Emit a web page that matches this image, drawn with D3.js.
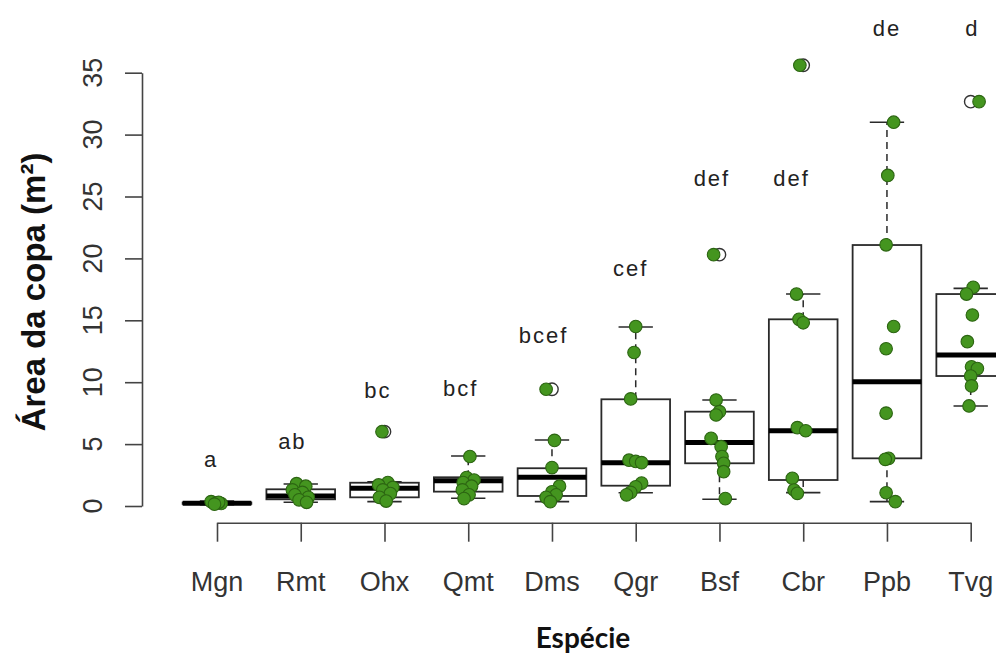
<!DOCTYPE html>
<html>
<head>
<meta charset="utf-8">
<script src="https://cdn.jsdelivr.net/npm/d3@7/dist/d3.min.js"></script>
<style>
  html, body { margin: 0; padding: 0; background: #fff; }
  svg { display: block; }
</style>
</head>
<body>
<svg id="chart" width="996" height="660"></svg>
<script>
// Species (x categories), ordered by crown area
const species = ["Mgn", "Rmt", "Ohx", "Qmt", "Dms", "Qgr", "Bsf", "Cbr", "Ppb", "Tvg"];

// Box statistics per species: lower whisker, Q1, median, Q3, upper whisker (m²)
const whiskerLow = [0.10, 0.30, 0.35, 0.62, 0.35, 1.07, 0.54, 1.08, 0.35, 8.08];
const q1         = [0.17, 0.54, 0.70, 1.16, 0.81, 1.64, 3.45, 2.10, 3.85, 10.50];
const median     = [0.22, 0.81, 1.43, 2.04, 2.32, 3.50, 5.12, 6.08, 10.04, 12.20];
const q3         = [0.28, 1.35, 1.88, 2.32, 3.05, 8.62, 7.62, 15.08, 21.08, 17.12];
const whiskerHigh= [0.40, 1.78, 1.95, 4.04, 5.33, 14.46, 8.56, 17.12, 31.00, 17.58];

// Outliers flagged by the boxplot (open circles)
const outliers = [[], [], [6.0], [], [9.43], [], [20.3], [35.6], [], [32.66]];

// Individual observations: [crown area (m²), horizontal jitter in category units]
const obsMgn = [[0.35, -0.07], [0.25, 0.00], [0.20, 0.05], [0.30, 0.02], [0.15, -0.03]];
const obsRmt = [[1.8, -0.05], [1.6, 0.06], [1.3, -0.10], [1.1, 0.02], [0.9, -0.07], [0.7, 0.09], [0.5, -0.02], [0.3, 0.07]];
const obsOhx = [[6.0, -0.03], [1.9, 0.04], [1.7, -0.07], [1.5, 0.10], [1.3, -0.02], [1.0, 0.07], [0.7, -0.06], [0.4, 0.02]];
const obsQmt = [[4.0, 0.02], [2.3, -0.02], [2.1, 0.07], [1.9, -0.06], [1.6, 0.04], [1.3, -0.07], [0.9, 0.01], [0.6, -0.05]];
const obsDms = [[9.43, -0.07], [5.3, 0.03], [3.1, 0.00], [1.6, 0.09], [1.15, 0.00], [0.9, 0.05], [0.7, -0.07], [0.35, -0.02]];
const obsQgr = [[14.5, 0.00], [12.4, -0.02], [8.65, -0.06], [3.7, -0.08], [3.6, 0.00], [3.5, 0.07], [1.85, 0.07], [1.55, 0.00], [1.1, -0.06], [0.9, -0.11]];
const obsBsf = [[20.3, -0.07], [8.56, -0.04], [7.62, 0.00], [7.35, -0.04], [5.47, -0.10], [4.79, 0.02], [4.0, 0.03], [3.45, 0.05], [2.77, 0.05], [0.6, 0.07]];
const obsCbr = [[35.6, -0.04], [17.12, -0.08], [15.08, -0.05], [14.8, 0.00], [6.33, -0.07], [6.08, 0.03], [2.24, -0.13], [1.29, -0.11], [1.02, -0.07]];
const obsPpb = [[31.0, 0.08], [26.7, 0.01], [21.1, -0.01], [14.5, 0.08], [12.7, -0.01], [7.5, -0.01], [3.85, 0.02], [3.77, -0.02], [1.07, -0.01], [0.35, 0.10]];
const obsTvg = [[32.66, 0.10], [17.67, 0.03], [17.12, -0.05], [15.43, 0.02], [13.27, -0.04], [11.25, 0.01], [11.1, 0.08], [10.5, 0.00], [9.7, 0.01], [8.08, -0.02]];
const observations = [obsMgn, obsRmt, obsOhx, obsQmt, obsDms, obsQgr, obsBsf, obsCbr, obsPpb, obsTvg];

// Compact letter display (Tukey groups): text, height in m², horizontal shift in category units
const groupLetters = ["a", "ab", "bc", "bcf", "bcef", "cef", "def", "def", "de", "d"];
const letterHeight = [3.8, 5.25, 9.4, 9.5, 13.8, 19.2, 26.5, 26.5, 38.6, 38.6];
const letterShift  = [-0.07, -0.1, -0.08, -0.09, -0.1, -0.06, -0.09, -0.14, 0.0, 0.02];

// Y-axis tick values
const yTicks = [0, 5, 10, 15, 20, 25, 30, 35];

const svg = d3.select("#chart");

const x = d3.scalePoint().domain(species).range([217, 970.7]);
const y = d3.scaleLinear().domain([0, 35]).range([506, 72.7]);
const step = x.step();
const boxW = step * 0.82;
const capW = boxW * 0.5;

const ink = "#2a2a2a";
const tickFont = "'Liberation Sans', Arial, sans-serif";

// ---- axes ----
const yAxis = svg.append("g")
  .attr("transform", "translate(142,0)")
  .call(d3.axisLeft(y).tickValues(yTicks).tickSize(17).tickSizeOuter(0).tickFormat(""));
const xAxis = svg.append("g")
  .attr("transform", "translate(0,522.7)")
  .call(d3.axisBottom(x).tickSize(19).tickSizeOuter(0).tickFormat(""));
[yAxis, xAxis].forEach(g => {
  g.selectAll("path, line").attr("stroke", "#444").attr("stroke-width", 1.6);
});

// rotated y tick labels
svg.append("g").selectAll("text")
  .data(yTicks).join("text")
  .attr("transform", d => `translate(102,${y(d)}) rotate(-90)`)
  .attr("text-anchor", "middle")
  .attr("font-family", tickFont)
  .attr("font-size", 27)
  .attr("fill", "#333")
  .text(d => d);

// x tick labels
svg.append("g").selectAll("text")
  .data(species).join("text")
  .attr("x", d => x(d))
  .attr("y", 591)
  .attr("text-anchor", "middle")
  .attr("font-family", tickFont)
  .attr("font-size", 27)
  .attr("fill", "#333")
  .text(d => d);

// axis titles
svg.append("text")
  .attr("transform", `translate(45,292) rotate(-90)`)
  .attr("text-anchor", "middle")
  .attr("font-family", tickFont)
  .attr("font-weight", "bold")
  .attr("font-size", 33)
  .attr("fill", "#111")
  .text("Área da copa (m²)");

svg.append("text")
  .attr("x", 583)
  .attr("y", 648)
  .attr("text-anchor", "middle")
  .attr("font-family", "Lato, 'Open Sans', sans-serif")
  .attr("font-weight", "bold")
  .attr("font-size", 28)
  .attr("fill", "#111")
  .text("Espécie");

// ---- boxplots ----
const boxes = svg.append("g").selectAll("g")
  .data(species.map((s, i) => ({
    s, lo: whiskerLow[i], q1: q1[i], med: median[i], q3: q3[i], hi: whiskerHigh[i]
  })))
  .join("g")
  .attr("transform", d => `translate(${x(d.s)},0)`);

// dashed whiskers
boxes.append("line")
  .attr("y1", d => y(d.q3)).attr("y2", d => y(d.hi))
  .attr("stroke", ink).attr("stroke-width", 1.5).attr("stroke-dasharray", "7,5");
boxes.append("line")
  .attr("y1", d => y(d.q1)).attr("y2", d => y(d.lo))
  .attr("stroke", ink).attr("stroke-width", 1.5).attr("stroke-dasharray", "7,5");
// staples
boxes.append("line")
  .attr("x1", -capW / 2).attr("x2", capW / 2)
  .attr("y1", d => y(d.hi)).attr("y2", d => y(d.hi))
  .attr("stroke", ink).attr("stroke-width", 1.6);
boxes.append("line")
  .attr("x1", -capW / 2).attr("x2", capW / 2)
  .attr("y1", d => y(d.lo)).attr("y2", d => y(d.lo))
  .attr("stroke", ink).attr("stroke-width", 1.6);
// box
boxes.append("rect")
  .attr("x", -boxW / 2).attr("width", boxW)
  .attr("y", d => y(d.q3))
  .attr("height", d => y(d.q1) - y(d.q3))
  .attr("fill", "#fff")
  .attr("stroke", ink).attr("stroke-width", 1.8);
// median
boxes.append("line")
  .attr("x1", -boxW / 2).attr("x2", boxW / 2)
  .attr("y1", d => y(d.med)).attr("y2", d => y(d.med))
  .attr("stroke", "#000").attr("stroke-width", 5);

// outliers (open circles at the box centre)
svg.append("g").selectAll("circle")
  .data(species.flatMap((s, i) => outliers[i].map(v => ({ s, v }))))
  .join("circle")
  .attr("cx", d => x(d.s))
  .attr("cy", d => y(d.v))
  .attr("r", 6.2)
  .attr("fill", "none")
  .attr("stroke", "#333")
  .attr("stroke-width", 1.4);

// jittered observations
svg.append("g").selectAll("circle")
  .data(species.flatMap((s, i) => observations[i].map(([v, j]) => ({ s, v, j }))))
  .join("circle")
  .attr("cx", d => x(d.s) + d.j * step)
  .attr("cy", d => y(d.v))
  .attr("r", 6.3)
  .attr("fill", "#44951f")
  .attr("stroke", "#2c6512")
  .attr("stroke-width", 1.1);

// group letters
svg.append("g").selectAll("text")
  .data(species.map((s, i) => ({ s, t: groupLetters[i], h: letterHeight[i], k: letterShift[i] })))
  .join("text")
  .attr("x", d => x(d.s) + d.k * step)
  .attr("y", d => y(d.h))
  .attr("dy", "0.36em")
  .attr("text-anchor", "middle")
  .attr("font-family", tickFont)
  .attr("font-size", 22)
  .attr("letter-spacing", 2)
  .attr("fill", "#222")
  .text(d => d.t);
</script>
</body>
</html>
